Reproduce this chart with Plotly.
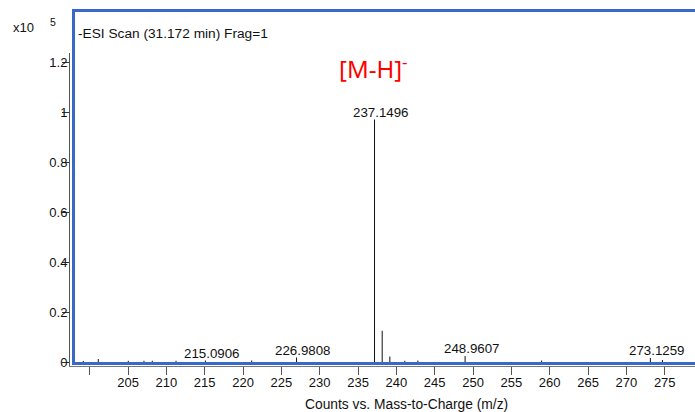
import plotly.graph_objects as go

# Stick spectrum (negative ESI), intensities in units of 10^5 counts
mz = [199.17, 201.12, 205.03, 207.08, 208.16, 211.26, 215.0906, 221.13,
      226.9808, 237.1496, 238.15, 239.15, 241.10, 242.80, 248.9607,
      258.95, 273.1259, 274.70]
counts_e5 = [0.004, 0.012, 0.005, 0.005, 0.005, 0.005, 0.006, 0.006,
             0.018, 0.970, 0.125, 0.022, 0.005, 0.006, 0.024,
             0.006, 0.016, 0.008]

# Peaks that carry an m/z label
labelled_mz = [215.0906, 226.9808, 237.1496, 248.9607, 273.1259]

# labelled ticks start at 205; an unlabelled tick also sits at 200
x_tick_vals = list(range(205, 280, 5))
x_tick_start = 200
x_tick_step = 5
y_tick_vals = [0, 0.2, 0.4, 0.6, 0.8, 1.0, 1.2]

W, H = 695, 412
L, R, T, B = 70, 0, 53, 46
PW, PH = W - L - R, H - T - B


def px(x):
    """pixel x -> paper x"""
    return (x - L) / PW


def py(y):
    """pixel y -> paper y"""
    return (H - B - y) / PH


# build the sticks as one broken line
xs, ys = [], []
for m, c in zip(mz, counts_e5):
    xs += [m, m, None]
    ys += [0, c, None]

fig = go.Figure()
fig.add_trace(go.Scatter(
    x=xs, y=ys, mode="lines",
    line=dict(color="#111111", width=1),
    hoverinfo="skip", showlegend=False,
))

FONT = "Liberation Sans, Arial, sans-serif"
annotations = []
for m in labelled_mz:
    h = counts_e5[mz.index(m)]
    annotations.append(dict(
        x=m, y=h, xref="x", yref="y", text=f"{m:.4f}",
        showarrow=False, xanchor="center", yanchor="bottom",
        xshift=6, yshift=-2,
        font=dict(family=FONT, size=13.3, color="#111111"),
    ))

annotations += [
    dict(x=px(23.5), y=py(27.5), xref="paper", yref="paper", text="x10",
         showarrow=False, xanchor="center", yanchor="middle",
         font=dict(family=FONT, size=13, color="#111111")),
    dict(x=px(53), y=py(22.5), xref="paper", yref="paper", text="5",
         showarrow=False, xanchor="center", yanchor="middle",
         font=dict(family=FONT, size=10.5, color="#111111")),
    dict(x=px(76), y=py(33), xref="paper", yref="paper",
         text="-ESI Scan (31.172 min) Frag=1",
         showarrow=False, xanchor="left", yanchor="middle",
         font=dict(family=FONT, size=13.7, color="#111111")),
    dict(x=px(337), y=py(67), xref="paper", yref="paper",
         text="[M-H]<sup>-</sup>",
         showarrow=False, xanchor="left", yanchor="middle",
         font=dict(family="Noto Sans, sans-serif", size=24, color="#ff0000")),
    dict(x=px(406.5), y=py(404), xref="paper", yref="paper",
         text="Counts vs. Mass-to-Charge (m/z)",
         showarrow=False, xanchor="center", yanchor="middle",
         font=dict(family=FONT, size=13.8, color="#111111")),
]

fig.update_layout(
    width=W, height=H,
    margin=dict(l=L, r=R, t=T, b=B, pad=0),
    paper_bgcolor="white", plot_bgcolor="white",
    showlegend=False,
    annotations=annotations,
    shapes=[dict(
        type="rect", xref="paper", yref="paper",
        x0=px(73.5), x1=px(730), y0=py(363.5), y1=py(10.5),
        line=dict(color="#3868c8", width=3), fillcolor="rgba(0,0,0,0)",
    )],
    xaxis=dict(
        range=[197.43, 278.95],
        tickmode="array", tickvals=x_tick_vals,
        showline=True, linecolor="#777777", linewidth=1,
        ticks="outside", ticklen=8, tickcolor="#555555",
        minor=dict(tick0=x_tick_start, dtick=x_tick_step, ticks="outside",
                   ticklen=8, tickcolor="#555555", showgrid=False),
        ticklabelstandoff=-4,
        tickfont=dict(family=FONT, size=13, color="#111111"),
        showgrid=False, zeroline=False, fixedrange=True,
    ),
    yaxis=dict(
        range=[-0.016, 1.236],
        tickmode="array", tickvals=y_tick_vals,
        showline=True, linecolor="#555555", linewidth=1,
        ticks="outside", ticklen=7, tickcolor="#333333",
        ticklabelstandoff=-8,
        tickfont=dict(family=FONT, size=13, color="#111111"),
        showgrid=False, zeroline=False, fixedrange=True,
    ),
)

fig.write_html("out.html", config={"displayModeBar": False})
